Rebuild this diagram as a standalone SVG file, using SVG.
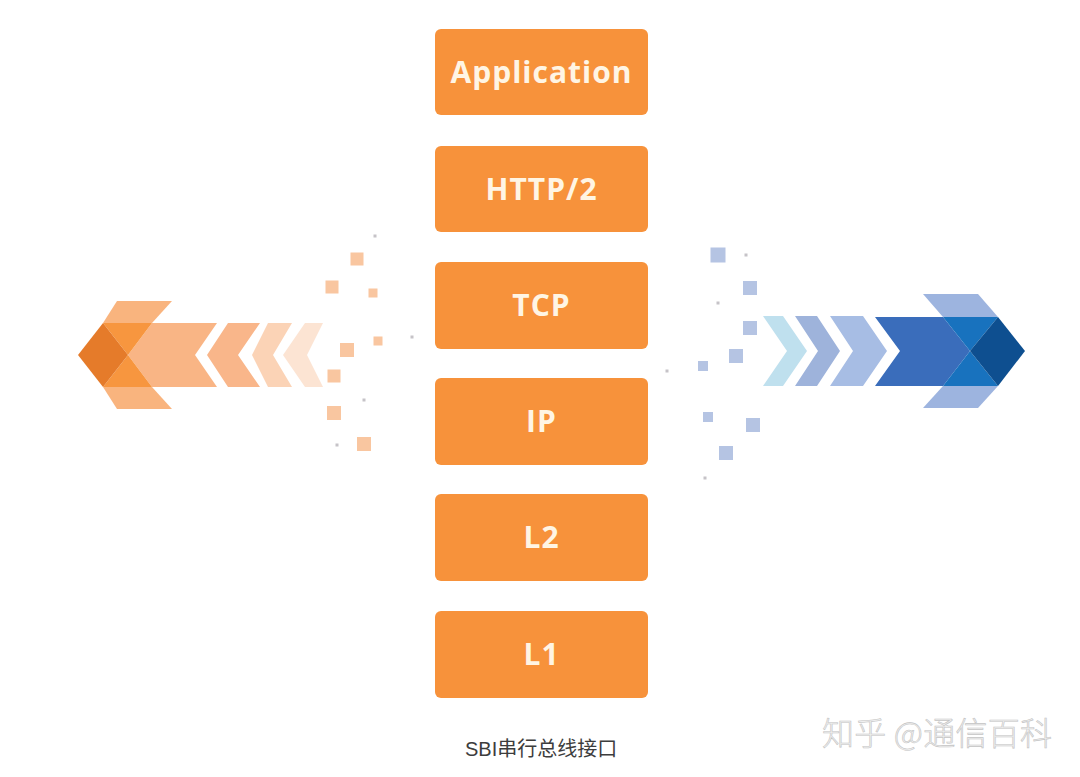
<svg xmlns="http://www.w3.org/2000/svg" width="1080" height="777" viewBox="0 0 1080 777">
<style>
.box{fill:#F7923B;}
.lbl{font-family:"Open Sans","Liberation Sans",sans-serif;font-weight:700;font-size:30px;fill:#FFF5E4;text-anchor:middle;letter-spacing:1px;}
.sqo{fill:#F9C6A0;}
.sqb{fill:#B5C4E3;}
.dot{fill:#C6C3C8;}
</style>
<rect width="1080" height="777" fill="#FFFFFF"/>
<g id="connectors">
<g id="left-arrow">
<polygon points="283,355 305,323 323,323 307,355 323,387 305,387" fill="#FCE4D3"/>
<polygon points="252,355 268,323 292,323 273,355 292,387 268,387" fill="#FBD3B6"/>
<polygon points="207,355 228,323 260,323 238,355 260,387 228,387" fill="#F9B68A"/>
<polygon points="152,323 217,323 195,355 217,387 152,387 128,355" fill="#F9B585"/>
<polygon points="117,301 172,301 152,323 103,323" fill="#F9B47E"/>
<polygon points="103,387 152,387 172,409 117,409" fill="#F9B47E"/>
<polygon points="103,323 152,323 128,355" fill="#F7963F"/>
<polygon points="103,387 152,387 128,355" fill="#F7963F"/>
<polygon points="78,355 103,323 128,355 103,387" fill="#E57B2A"/>
</g>
<g id="left-particles">
<rect class="dot" x="373.5" y="234.5" width="3" height="3"/>
<rect class="sqo" x="350.5" y="252.5" width="13" height="13"/>
<rect class="sqo" x="325.5" y="280.5" width="13" height="13"/>
<rect class="sqo" x="368.5" y="288.5" width="9" height="9"/>
<rect class="sqo" x="373.5" y="336.5" width="9" height="9"/>
<rect class="dot" x="410.5" y="335.5" width="3" height="3"/>
<rect class="sqo" x="340" y="343" width="14" height="14"/>
<rect class="sqo" x="327.5" y="369.5" width="13" height="13"/>
<rect class="dot" x="362.5" y="398.5" width="3" height="3"/>
<rect class="sqo" x="327" y="406" width="14" height="14"/>
<rect class="dot" x="335.5" y="443.5" width="3" height="3"/>
<rect class="sqo" x="357" y="437" width="14" height="14"/>
</g>
<g id="right-particles">
<rect class="sqb" x="710.5" y="247.5" width="15" height="15"/>
<rect class="dot" x="744.5" y="253.5" width="3" height="3"/>
<rect class="sqb" x="743" y="281" width="14" height="14"/>
<rect class="dot" x="716.5" y="301.5" width="3" height="3"/>
<rect class="sqb" x="743" y="321" width="14" height="14"/>
<rect class="sqb" x="729" y="349" width="14" height="14"/>
<rect class="sqb" x="698" y="361" width="10" height="10" fill="#BBC3D6"/>
<rect class="dot" x="665.5" y="369.5" width="3" height="3"/>
<rect class="sqb" x="703" y="412" width="10" height="10"/>
<rect class="sqb" x="746" y="418" width="14" height="14"/>
<rect class="sqb" x="719" y="446" width="14" height="14"/>
<rect class="dot" x="703.5" y="476.5" width="3" height="3"/>
</g>
<g id="right-arrow">
<polygon points="763,316 783,316 807,351 783,386 763,386 787,351" fill="#BFE0EE"/>
<polygon points="795,316 817,316 840,351 817,386 795,386 818,351" fill="#9EB3DB"/>
<polygon points="830,316 863,316 887,351 863,386 830,386 853,351" fill="#A7BDE4"/>
<polygon points="875,317 943,317 970,351 943,386 875,386 900,351" fill="#3A6DBB"/>
<polygon points="923,294 978,294 998,317 943,317" fill="#9DB4DF"/>
<polygon points="943,386 998,386 978,408 923,408" fill="#9DB4DF"/>
<polygon points="943,317 998,317 970,351" fill="#1872BE"/>
<polygon points="943,386 998,386 970,351" fill="#1872BE"/>
<polygon points="970,351 998,317 1025,351 998,386" fill="#0E4F90"/>
</g>
</g>
<g id="node-application">
<rect class="box" x="435" y="29" width="213" height="86" rx="6"/>
<text class="lbl" x="541.5" y="83">Application</text>
</g>
<g id="node-http2">
<rect class="box" x="435" y="146" width="213" height="86" rx="6"/>
<text class="lbl" x="541.5" y="200">HTTP/2</text>
</g>
<g id="node-tcp">
<rect class="box" x="435" y="262" width="213" height="87" rx="6"/>
<text class="lbl" x="541.5" y="316">TCP</text>
</g>
<g id="node-ip">
<rect class="box" x="435" y="378" width="213" height="87" rx="6"/>
<text class="lbl" x="541.5" y="432">IP</text>
</g>
<g id="node-l2">
<rect class="box" x="435" y="494" width="213" height="87" rx="6"/>
<text class="lbl" x="541.5" y="548">L2</text>
</g>
<g id="node-l1">
<rect class="box" x="435" y="611" width="213" height="87" rx="6"/>
<text class="lbl" x="541.5" y="665">L1</text>
</g>
<g id="caption">
<text x="465" y="756" font-family="'Liberation Sans','Noto Sans CJK SC',sans-serif" font-size="20" fill="#3D3D3D">SBI串行总线接口</text>
</g>
<g id="watermark">
<text x="822" y="745" font-family="'Noto Sans CJK SC',sans-serif" font-size="32" font-weight="300" fill="#F0F0F0" stroke="#C4C4C4" stroke-width="0.6" textLength="230" lengthAdjust="spacing">知乎 @通信百科</text>
</g>
</svg>
